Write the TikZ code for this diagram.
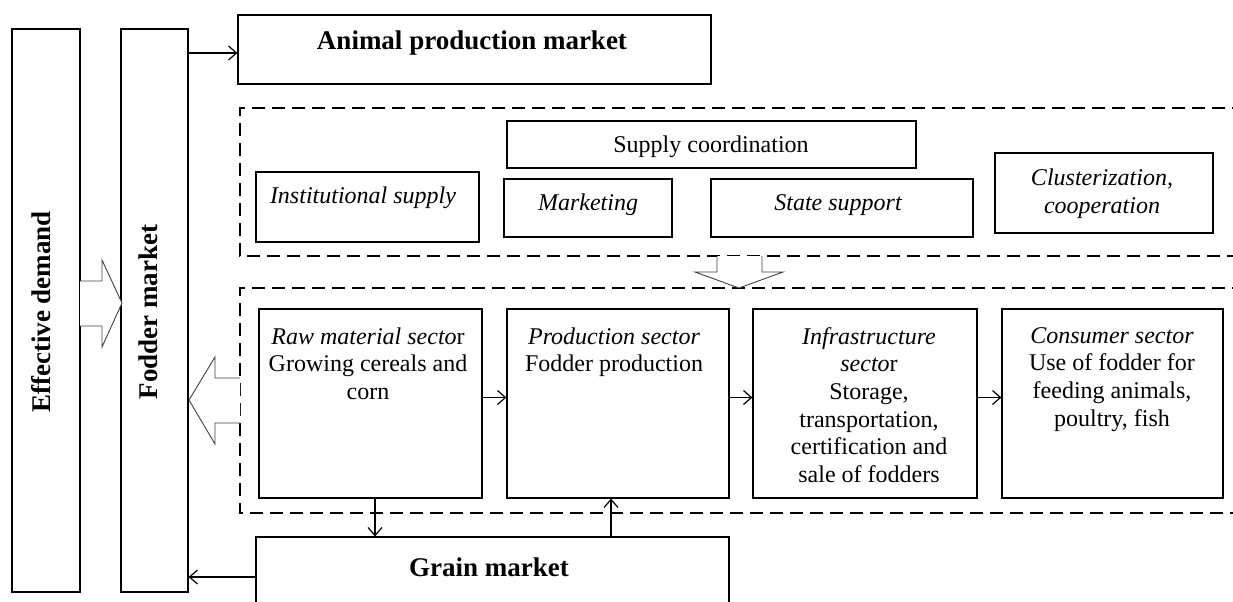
\documentclass[tikz,border=0pt]{standalone}
\usepackage{fontspec}
\setmainfont{Liberation Serif}
\usetikzlibrary{arrows.meta,fit}
\begin{document}
\begin{tikzpicture}[x=0.5pt,y=-0.5pt,
  box/.style={draw, line width=0.6pt, inner sep=0pt, fit={#1}},
  txt/.style={inner sep=0pt, font=\fontsize{12}{13.8}\selectfont, align=center},
  btxt/.style={inner sep=0pt, font=\fontsize{13.5}{16}\selectfont\bfseries},
  dashbox/.style={line width=0.6pt, dash pattern=on 6.5pt off 3.5pt},
  arr/.style={line width=0.6pt, -{Straight Barb[length=4pt,width=7pt,line width=0.6pt]}},
  blockarrow/.style={draw=black!75, line width=0.45pt, fill=white, line join=miter}]
\useasboundingbox (0,0) rectangle (1233,601);
\clip (0,0) rectangle (1233,601);

% left columns
\node[box={(12,29) (80,592)}] (ed) {};
\node[box={(121,29) (188,592)}] (fm) {};
\node[btxt, rotate=90] (edt) at (41,312) {Effective demand};
\node[btxt, rotate=90] (fmt) at (148,312) {Fodder market};

% animal production market
\node[box={(238,15) (711,84)}] (animal) {};
\node[btxt] (animalt) at (472,43) {Animal production market};

% dashed frames
\draw[dashbox] (1245,108) -- (240,108) -- (240,256) -- (1245,256);
\draw[dashbox] (1245,288) -- (240,288) -- (240,513) -- (1245,513);

% supply boxes
\node[box={(507,121) (916,168)}] (coord) {};
\node[txt] (coordt) at (711,147) {Supply coordination};
\node[box={(256,172) (479,242)}] (inst) {};
\node[txt] (instt) at (363,198) {\itshape Institutional supply};
\node[box={(504,179) (672,237)}] (mkt) {};
\node[txt] (mktt) at (588,205) {\itshape Marketing};
\node[box={(711,179) (973,237)}] (state) {};
\node[txt] (statet) at (838,205) {\itshape State support};
\node[box={(995,153) (1213,233)}] (clus) {};
\node[txt, font=\fontsize{12}{14}\selectfont\itshape] (clust) at (1102,194) {Clusterization,\\cooperation};

% sector boxes
\node[box={(259,309) (482,498)}] (raw) {};
\node[txt, anchor=north] (rawt) at (368,327) {{\itshape Raw material secto}r\\Growing cereals and\\corn};
\node[box={(507,309) (729,498)}] (prod) {};
\node[txt, anchor=north] (prodt) at (614,327) {{\itshape Production sector}\\Fodder production};
\node[box={(753,309) (977,498)}] (infra) {};
\node[txt, anchor=north] (infrat) at (869,327) {{\itshape Infrastructure}\\{\itshape secto}r\\Storage,\\transportation,\\certification and\\sale of fodders};
\node[box={(1002,309) (1223,498)}] (cons) {};
\node[txt, anchor=north] (const) at (1112,327) {{\itshape Consumer sector}\\Use of fodder for\\feeding animals,\\poultry, fish};

% grain market
\node[box={(256,537) (729,617)}] (grain) {};
\node[btxt] (graint) at (489,567) {Grain market};

% thin arrows
\draw[arr] ([yshift=-1.75pt]fm.east |- animal.west) -- ([yshift=-1.75pt]animal.west);
\draw[arr] ([yshift=3pt]raw.east) -- ([yshift=3pt]prod.west);
\draw[arr] ([yshift=3pt]prod.east) -- ([yshift=3pt]infra.west);
\draw[arr] ([yshift=3pt]infra.east) -- ([yshift=3pt]cons.west);
\draw[arr] ([xshift=2.25pt]raw.south) -- ([xshift=2.25pt]raw.south |- grain.north);
\draw[arr] ([xshift=-3.5pt]prod.south |- grain.north) -- ([xshift=-3.5pt]prod.south);
\draw[arr] (grain.west) -- (grain.west -| fm.east);

% block arrows
\draw[blockarrow] (80,281) -- (102,281) -- (102,260) -- (122,303) -- (102,347) -- (102,326) -- (80,326);
\draw[blockarrow] (240,378) -- (215,378) -- (215,357) -- (189,400) -- (215,444) -- (215,423) -- (240,423);
\draw[blockarrow] (717,256) -- (717,272) -- (695,272) -- (739,288) -- (783,272) -- (762,272) -- (762,256);
\end{tikzpicture}
\end{document}
